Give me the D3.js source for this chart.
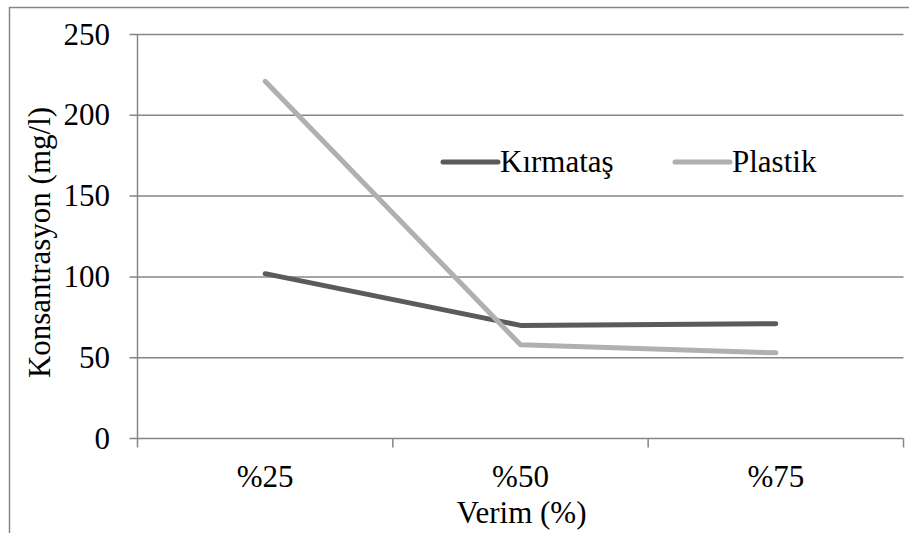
<!DOCTYPE html>
<html>
<head>
<meta charset="utf-8">
<script src="https://cdn.jsdelivr.net/npm/d3@7"></script>
<style>
	body { margin: 0; background: #fff; }
	text { font-family: "Liberation Serif", "Times New Roman", serif; fill: #000; }
</style>
</head>
<body>
<svg id="chart" width="909" height="533"></svg>
<script>
// Chart data
const categories = ["%25", "%50", "%75"];
const kirmatas = [102, 70, 71];
const plastik = [221, 58, 53];
const seriesNames = ["Kırmataş", "Plastik"];
const yTicks = [0, 50, 100, 150, 200, 250];

const svg = d3.select("#chart");
const gridColor = "#868686";
const fontSize = 31;

// Chart frame (cut off at right and bottom)
svg.append("rect")
	.attr("x", 9.5).attr("y", 7.5)
	.attr("width", 920).attr("height", 560)
	.attr("fill", "none").attr("stroke", gridColor).attr("stroke-width", 1.5);

// Plot area
const plotLeft = 137.5, plotRight = 903.5, plotTop = 34.5, plotBottom = 438.5;

let x = d3.scaleBand().domain(categories).range([plotLeft, plotRight]);
let y = d3.scaleLinear().domain([0, 250]).range([plotBottom, plotTop]);

// Horizontal grid lines + y ticks
svg.append("g")
	.selectAll("line")
	.data(yTicks)
	.join("line")
	.attr("x1", plotLeft - 8).attr("x2", plotRight)
	.attr("y1", d => y(d)).attr("y2", d => y(d))
	.attr("stroke", gridColor).attr("stroke-width", 1.5);

// y axis
svg.append("line")
	.attr("x1", plotLeft).attr("x2", plotLeft)
	.attr("y1", plotTop).attr("y2", plotBottom)
	.attr("stroke", gridColor).attr("stroke-width", 1.5);

// y tick labels
svg.append("g")
	.selectAll("text")
	.data(yTicks)
	.join("text")
	.attr("x", 110).attr("y", d => y(d) + 10)
	.attr("text-anchor", "end")
	.attr("font-size", fontSize)
	.text(d => d);

// x category ticks (between categories)
let xTickPos = categories.map(c => x(c)).concat([plotRight]);
svg.append("g")
	.selectAll("line")
	.data(xTickPos)
	.join("line")
	.attr("x1", d => d).attr("x2", d => d)
	.attr("y1", plotBottom).attr("y2", plotBottom + 9)
	.attr("stroke", gridColor).attr("stroke-width", 1.5);

// x tick labels
svg.append("g")
	.selectAll("text")
	.data(categories)
	.join("text")
	.attr("x", d => x(d) + x.bandwidth() / 2)
	.attr("y", 487)
	.attr("text-anchor", "middle")
	.attr("font-size", fontSize)
	.text(d => d);

// Axis titles
svg.append("text")
	.attr("x", (plotLeft + plotRight) / 2 + 1).attr("y", 523)
	.attr("text-anchor", "middle")
	.attr("font-size", fontSize)
	.text("Verim (%)");

svg.append("text")
	.attr("transform", "translate(50," + ((plotTop + plotBottom) / 2 + 6) + ") rotate(-90)")
	.attr("text-anchor", "middle")
	.attr("font-size", fontSize)
	.text("Konsantrasyon (mg/l)");

// Lines
const colors = ["#5b5b5b", "#b0b0b0"];
let line = d3.line()
	.x((d, i) => x(categories[i]) + x.bandwidth() / 2)
	.y(d => y(d));

[kirmatas, plastik].forEach((s, i) => {
	svg.append("path")
		.datum(s)
		.attr("d", line)
		.attr("fill", "none")
		.attr("stroke", colors[i])
		.attr("stroke-width", 5)
		.attr("stroke-linecap", "round")
		.attr("stroke-linejoin", "round");
});

// Legend
const legendX = [443, 675];
seriesNames.forEach((name, i) => {
	svg.append("line")
		.attr("x1", legendX[i]).attr("x2", legendX[i] + 55)
		.attr("y1", 162).attr("y2", 162)
		.attr("stroke", colors[i]).attr("stroke-width", 5)
		.attr("stroke-linecap", "round");
	svg.append("text")
		.attr("x", legendX[i] + 57).attr("y", 172)
		.attr("font-size", fontSize)
		.text(name);
});
</script>
</body>
</html>
